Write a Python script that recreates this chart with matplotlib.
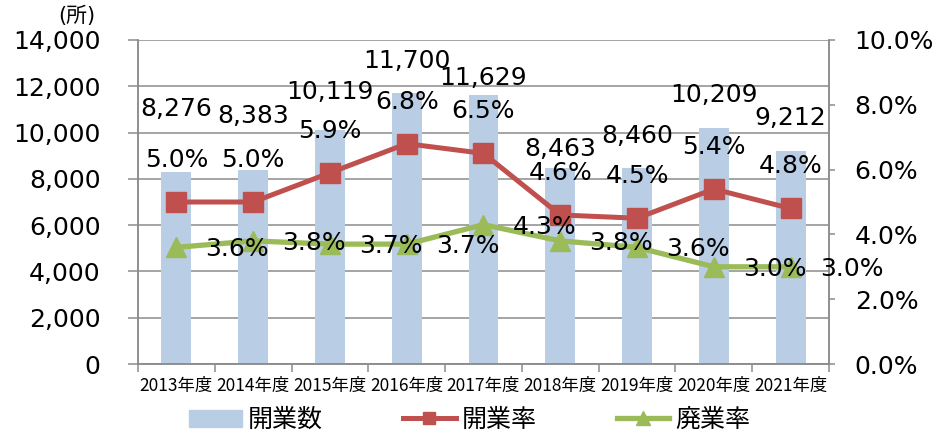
import matplotlib
matplotlib.use("Agg")
import matplotlib.pyplot as plt
import numpy as np
from matplotlib.ticker import FuncFormatter, MultipleLocator

plt.rcParams['font.family'] = ['DejaVu Sans', 'Noto Sans CJK JP']

years = ["2013年度", "2014年度", "2015年度", "2016年度", "2017年度",
         "2018年度", "2019年度", "2020年度", "2021年度"]
kaigyo_su = [8276, 8383, 10119, 11700, 11629, 8463, 8460, 10209, 9212]
kaigyo_ritsu = [5.0, 5.0, 5.9, 6.8, 6.5, 4.6, 4.5, 5.4, 4.8]
haigyo_ritsu = [3.6, 3.8, 3.7, 3.7, 4.3, 3.8, 3.6, 3.0, 3.0]

# label placement above each bar top (pixels)
count_dy = [63, 54, 38, 32, 17, 19, 32, 33, 33]

BLUE = "#B9CDE5"
RED = "#C0504D"
GREEN = "#9BBB59"
GRID = "#8C8C8C"

fig = plt.figure(figsize=(9.42, 4.41), dpi=100)
ax = fig.add_axes([138 / 942, 77 / 441, 691 / 942, 324 / 441])
ax2 = ax.twinx()

x = np.arange(len(years))
ax.bar(x, kaigyo_su, width=0.39, color=BLUE, zorder=2)
ax.set_xlim(-0.5, len(years) - 0.5)
ax.set_ylim(0, 14000)
ax.yaxis.set_major_locator(MultipleLocator(2000))
ax.yaxis.set_major_formatter(FuncFormatter(lambda v, p: f"{v:,.0f}"))
ax.grid(axis="y", color=GRID, lw=1.1, zorder=0)
ax.set_axisbelow(True)

ax2.plot(x, kaigyo_ritsu, color=RED, lw=3.6, marker="s", ms=14, mec=RED, label="開業率", zorder=3)
ax2.plot(x, haigyo_ritsu, color=GREEN, lw=3.8, marker="^", ms=15, mec=GREEN, label="廃業率", zorder=3)
ax2.set_ylim(0, 10)
ax2.yaxis.set_major_locator(MultipleLocator(2))
ax2.yaxis.set_major_formatter(FuncFormatter(lambda v, p: f"{v:.1f}%"))

for a in (ax, ax2):
    for s in a.spines.values():
        s.set_color(GRID)
        s.set_linewidth(1.1)
    a.spines["top"].set_visible(False)

ax.tick_params(axis="y", labelsize=18, length=7, width=1.1, color=GRID, pad=20)
ax2.tick_params(axis="y", labelsize=18, length=4.5, width=1.1, color=GRID, pad=14)

# category ticks: marks at the boundaries, text at the centres
ax.set_xticks(x)
ax.set_xticklabels(years, family=['Liberation Sans Narrow', 'Noto Sans CJK JP'], fontsize=12.5)
ax.set_xticks(np.arange(-0.5, len(years)), minor=True)
ax.tick_params(axis="x", which="major", length=0, pad=9)
ax.tick_params(axis="x", which="minor", length=6, width=1.1, color=GRID)

# data labels
for i, v in enumerate(kaigyo_su):
    ax2.annotate(f"{v:,}", xy=(i, v), xycoords=ax.transData,
                 xytext=(0, count_dy[i]), textcoords="offset pixels",
                 ha="center", va="center", fontsize=18, zorder=5)
for i, v in enumerate(kaigyo_ritsu):
    ax2.annotate(f"{v:.1f}%", xy=(i, v), xytext=(0, 42), textcoords="offset pixels",
                 ha="center", va="center", fontsize=18, zorder=5)
for i, v in enumerate(haigyo_ritsu):
    ax2.annotate(f"{v:.1f}%", xy=(i, v), xytext=(61, -2), textcoords="offset pixels",
                 ha="center", va="center", fontsize=18, zorder=5, annotation_clip=False)

fig.text(77 / 942, 1 - 16 / 441, "(所)", ha="center", va="center", fontsize=15)

h1 = plt.Rectangle((0, 0), 1, 1, color=BLUE, label="開業数")
l1, l2 = ax2.get_lines()
leg = fig.legend([h1, l1, l2], ["開業数", "開業率", "廃業率"], loc="center",
                 bbox_to_anchor=(470 / 942, 21 / 441), ncol=3, frameon=False,
                 fontsize=18, handlelength=2.1, handletextpad=0.25,
                 columnspacing=3.2, markerscale=0.65)

fig.savefig("out.png", dpi=100)
